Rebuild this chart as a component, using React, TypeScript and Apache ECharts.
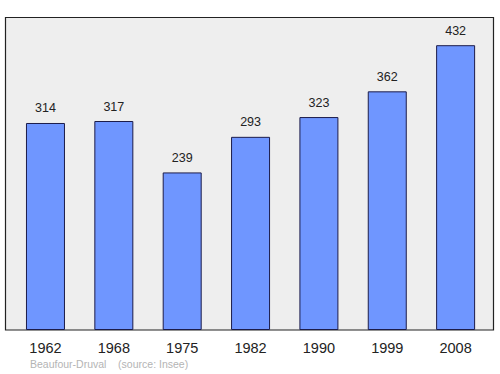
import React, { useEffect, useRef } from "react";
import * as echarts from "echarts";

const years = ["1962", "1968", "1975", "1982", "1990", "1999", "2008"];
const population = [314, 317, 239, 293, 323, 362, 432];
const footer = "Beaufour-Druval    (source: Insee)";

export default function App() {
  const ref = useRef<HTMLDivElement>(null);
  useEffect(() => {
    const chart = echarts.init(ref.current!, null, { renderer: "svg" });
    chart.setOption({
      animation: false,
      textStyle: { fontFamily: "Liberation Sans, Arial, sans-serif" },
      graphic: [
        {
          type: "rect",
          z: 0,
          shape: { x: 5.5, y: 17.5, width: 488, height: 312.5 },
          style: { fill: "#eeeeee", stroke: "#222222", lineWidth: 1.2 },
        },
        {
          type: "text",
          left: 30,
          top: 358,
          style: {
            text: footer,
            fill: "#b4b4b4",
            font: "10.5px Liberation Sans, Arial, sans-serif",
          },
        },
      ],
      grid: { left: 11.3, right: 10.2, top: 17.5, bottom: 44 },
      xAxis: {
        type: "category",
        data: years,
        axisLine: { show: false },
        axisTick: { show: false },
        axisLabel: { color: "#222222", fontSize: 14.5, margin: 10 },
      },
      yAxis: {
        type: "value",
        min: 0,
        max: 474,
        show: false,
        splitLine: { show: false },
      },
      series: [
        {
          type: "bar",
          data: population,
          z: 2,
          barWidth: 39,
          itemStyle: { color: "#6f96ff", borderColor: "#1c1c4a", borderWidth: 1 },
          label: {
            show: true,
            position: "top",
            distance: 8,
            color: "#222222",
            fontSize: 12.5,
          },
        },
      ],
    });
    return () => chart.dispose();
  }, []);
  return <div ref={ref} style={{ width: 500, height: 374, position: "absolute", left: 0, top: 0 }} />;
}
